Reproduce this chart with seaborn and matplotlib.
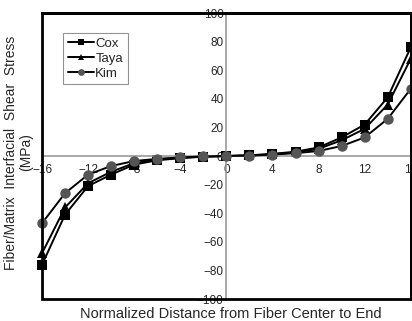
import matplotlib
matplotlib.use("Agg")
import matplotlib.pyplot as plt
from matplotlib.patches import Rectangle
import pandas as pd
import numpy as np
import seaborn as sns

# normalized distance from fiber center
distance = [-16, -14, -12, -10, -8, -6, -4, -2, 0, 2, 4, 6, 8, 10, 12, 14, 16]

# interfacial shear stress (MPa)
cox = [-76, -41, -21, -13, -6, -3, -1.5, -0.5, 0, 0.5, 1.5, 3, 6, 13, 22, 41, 76]
taya = [-68, -36, -19, -11, -5, -2.5, -1.2, -0.4, 0, 0.4, 1.2, 2.5, 5, 11, 19, 36, 68]
kim = [-47, -26, -13, -7, -3.5, -2, -1, -0.3, 0, 0.3, 1, 2, 3.5, 7, 13, 26, 47]

models = ["Cox", "Taya", "Kim"]

df = pd.DataFrame({
    "x": distance * 3,
    "stress": cox + taya + kim,
    "model": ["Cox"] * len(distance) + ["Taya"] * len(distance) + ["Kim"] * len(distance),
})

sns.set_style("white")
plt.rcParams["font.family"] = ["Liberation Sans", "DejaVu Sans"]

fig = plt.figure(figsize=(4.12, 3.21), dpi=100)
ax = fig.add_axes([0.102, 0.0685, 0.895, 0.891])

sns.lineplot(data=df, x="x", y="stress", hue="model", style="model",
             hue_order=models, style_order=models,
             palette=["black", "black", "black"],
             markers={"Cox": "s", "Taya": "^", "Kim": "o"}, dashes=False,
             lw=1.4, markersize=7.5, markeredgewidth=0, ax=ax, legend=True)

# Kim markers are dark grey
for line in ax.lines:
    line.set_clip_on(False)
    if line.get_marker() == "o":
        line.set_markerfacecolor("#555555")
        line.set_markeredgecolor("#555555")
        line.set_zorder(5)

ax.set_xlim(-16, 16)
ax.set_ylim(-100, 100)
ax.set_xticks(np.arange(-16, 17, 4))
ax.set_yticks(np.arange(-100, 101, 20))

# axes through the origin
ax.spines["left"].set_position("zero")
ax.spines["bottom"].set_position("zero")
for s in ["left", "bottom"]:
    ax.spines[s].set_color("#999999")
    ax.spines[s].set_linewidth(1.2)
for s in ["top", "right"]:
    ax.spines[s].set_color("black")
    ax.spines[s].set_linewidth(2)
ax.add_patch(Rectangle((0, 0), 1, 1, transform=ax.transAxes, fill=False,
                       ec="black", lw=2, clip_on=False, zorder=10))

ax.tick_params(axis="both", direction="in", length=3, width=0.8,
               color="#999999", labelsize=8.5, pad=2)
ax.tick_params(axis="x", pad=6)

ax.set_xlabel("")
ax.set_ylabel("")

handles, labels = ax.get_legend_handles_labels()
for h in handles:
    if h.get_marker() == "o":
        h.set_markerfacecolor("#555555")
        h.set_markeredgecolor("#555555")
leg = ax.legend(handles, labels, loc="upper left", bbox_to_anchor=(0.057, 0.93),
                frameon=True, fancybox=False, fontsize=9.5, handlelength=2.0,
                handletextpad=0.1, labelspacing=0.2, borderpad=0.35,
                markerscale=0.65, borderaxespad=0)
leg.get_frame().set_edgecolor("#777777")
leg.get_frame().set_linewidth(0.8)

fig.text(0.045, 0.525, "Fiber/Matrix  Interfacial  Shear  Stress\n(MPa)",
         rotation=90, ha="center", va="center", fontsize=10, linespacing=1.1)
fig.text(0.56, 0.0, "Normalized Distance from Fiber Center to End",
         ha="center", va="bottom", fontsize=10.5)

fig.savefig("out.png", dpi=100)
